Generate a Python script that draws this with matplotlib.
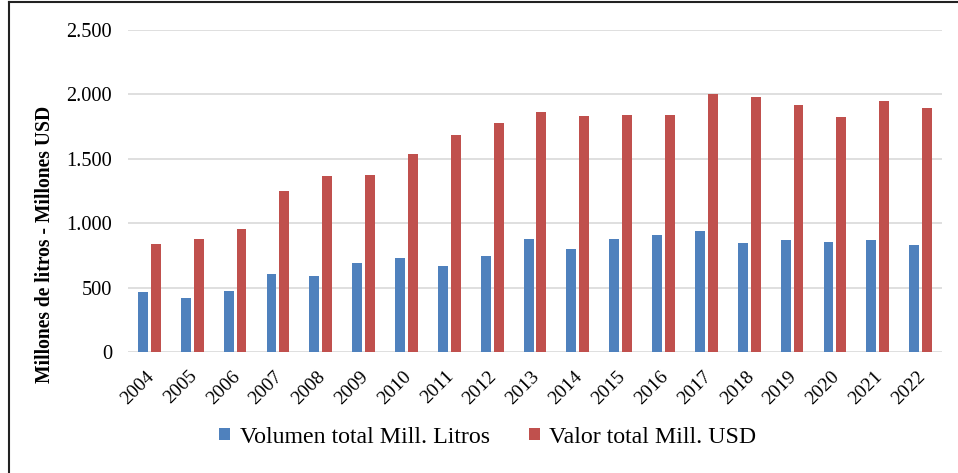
import matplotlib
matplotlib.use("Agg")
import matplotlib.pyplot as plt
import matplotlib.transforms as mtransforms
import numpy as np
from matplotlib.lines import Line2D

years = ["2004", "2005", "2006", "2007", "2008", "2009", "2010", "2011", "2012",
         "2013", "2014", "2015", "2016", "2017", "2018", "2019", "2020", "2021", "2022"]
volumen = [468, 416, 474, 605, 587, 693, 729, 667, 747, 877, 799, 877, 908, 939,
           848, 867, 852, 867, 830]
valor = [837, 877, 957, 1250, 1369, 1372, 1535, 1682, 1775, 1866, 1835, 1843, 1843,
         2003, 1982, 1918, 1822, 1951, 1897]
yticks = [0, 500, 1000, 1500, 2000, 2500]
ytick_labels = ["0", "500", "1.000", "1.500", "2.000", "2.500"]

plt.rcParams['font.family'] = ['Liberation Serif', 'DejaVu Serif']

fig = plt.figure(figsize=(9.58, 4.73), dpi=100)
ax = fig.add_axes([128/958, 1-352/473, (942-128)/958, (352-30)/473])

x = np.arange(len(years))
w = 0.23
blue = "#4f81bd"
red = "#c0504d"
ax.bar(x - w/2 - 0.035, volumen, width=w, color=blue, label="Volumen total Mill. Litros", zorder=3)
ax.bar(x + w/2 + 0.035, valor, width=w, color=red, label="Valor total Mill. USD", zorder=3)

ax.set_xlim(-0.5, len(years) - 0.5)
ax.set_ylim(0, 2500)
ax.set_yticks(yticks)
ax.set_yticklabels(ytick_labels, fontsize=14.7)
ax.set_xticks(x)
ax.set_xticklabels(years, rotation=45, ha='right', rotation_mode='anchor', fontsize=14)
ax.tick_params(axis='both', length=0)
ax.tick_params(axis='y', pad=11.5)
ax.tick_params(axis='x', pad=12)
offset = mtransforms.ScaledTranslation(-4/100, 1/100, fig.dpi_scale_trans)
for lbl in ax.get_xticklabels():
    lbl.set_transform(lbl.get_transform() + offset)
for s in ax.spines.values():
    s.set_visible(False)
ax.grid(axis='y', color='#d9d9d9', linewidth=1.2, zorder=0)
ax.set_axisbelow(True)

ax.set_ylabel("Millones de litros - Millones USD", fontsize=14.1, fontweight='bold')
ax.yaxis.set_label_coords(-0.0897, 0.334)

leg = fig.legend(loc='center', bbox_to_anchor=(0.5094, 1-437/473), ncol=2, frameon=False,
                 fontsize=17.2, handlelength=0.45, handleheight=0.45, handletextpad=0.4,
                 columnspacing=1.65)

# frame lines (left and top)
fig.add_artist(Line2D([9/958, 9/958], [0, 1-2/473], color='#222222', linewidth=1.5, transform=fig.transFigure))
fig.add_artist(Line2D([9/958, 1], [1-2/473, 1-2/473], color='#222222', linewidth=1.5, transform=fig.transFigure))

fig.savefig("out.png", dpi=100)
